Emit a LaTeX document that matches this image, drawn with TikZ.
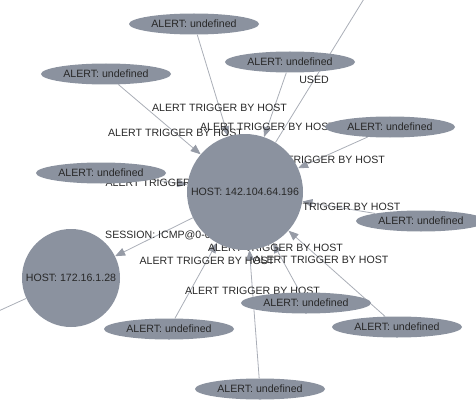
\documentclass[tikz,border=0pt]{standalone}
\usepackage{fontspec}
\setmainfont{Liberation Sans}
\usetikzlibrary{shapes.geometric,arrows.meta,calc}
\pgfdeclarelayer{bg}
\pgfsetlayers{bg,main}
\definecolor{nodefill}{RGB}{139,146,159}
\definecolor{edgecol}{RGB}{170,174,183}
\definecolor{arrowcol}{RGB}{150,155,166}
\definecolor{txt}{RGB}{40,40,40}
\begin{document}
\begin{tikzpicture}[x=1pt,y=-1pt,
  lblfont/.style={font=\fontsize{10.6}{12}\selectfont},
  alertnode/.style={ellipse, fill=nodefill, minimum width=130pt, minimum height=21pt, inner sep=0pt, text=txt, lblfont},
  hostnode/.style={circle, fill=nodefill, inner sep=0pt, text=txt, lblfont},
  link/.style={draw=edgecol, line width=0.8pt},
  arrowlink/.style={link, -{Triangle[length=10pt,width=8pt,color=arrowcol]}},
  elabel/.style={text=txt, lblfont, inner sep=0pt}
]
\useasboundingbox (0,0) rectangle (476,401);
\node[hostnode, minimum size=116pt] (hub) at (245,192) {HOST: 142.104.64.196};
\node[hostnode, minimum size=98pt] (h2) at (71,278) {HOST: 172.16.1.28};
\node[alertnode] (a1) at (194,24) {ALERT: undefined};
\node[alertnode] (a2) at (106,74) {ALERT: undefined};
\node[alertnode] (a3) at (290,62) {ALERT: undefined};
\node[alertnode] (a4) at (390,127) {ALERT: undefined};
\node[alertnode] (a5) at (101,173) {ALERT: undefined};
\node[alertnode] (a6) at (421,221) {ALERT: undefined};
\node[alertnode] (a7) at (306,303) {ALERT: undefined};
\node[alertnode] (a8) at (397,327) {ALERT: undefined};
\node[alertnode] (a9) at (169,329) {ALERT: undefined};
\node[alertnode] (a10) at (260,389) {ALERT: undefined};
\coordinate (u) at (383,-32);
\coordinate (ll) at (-30,324);
\begin{pgfonlayer}{bg}
\foreach \a in {a1,a2,a3,a4,a5,a6,a7,a8,a9,a10}
  \draw[arrowlink] (\a) -- (hub);
\draw[arrowlink] (hub) -- (h2);
\draw[link] (hub) -- (u);
\draw[link] (h2) -- (ll);
\foreach \a in {a1,a2,a3,a4,a5,a6,a7,a8,a9,a10}
  \node[elabel] at ($(\a)!0.5!(hub)$) {ALERT TRIGGER BY HOST};
\node[elabel] (sl) at ($(hub)!0.5!(h2)$) {SESSION: ICMP@0-0};
\node[elabel] (ul) at ($(hub)!0.5!(u)$) {USED};
\end{pgfonlayer}
\end{tikzpicture}
\end{document}
